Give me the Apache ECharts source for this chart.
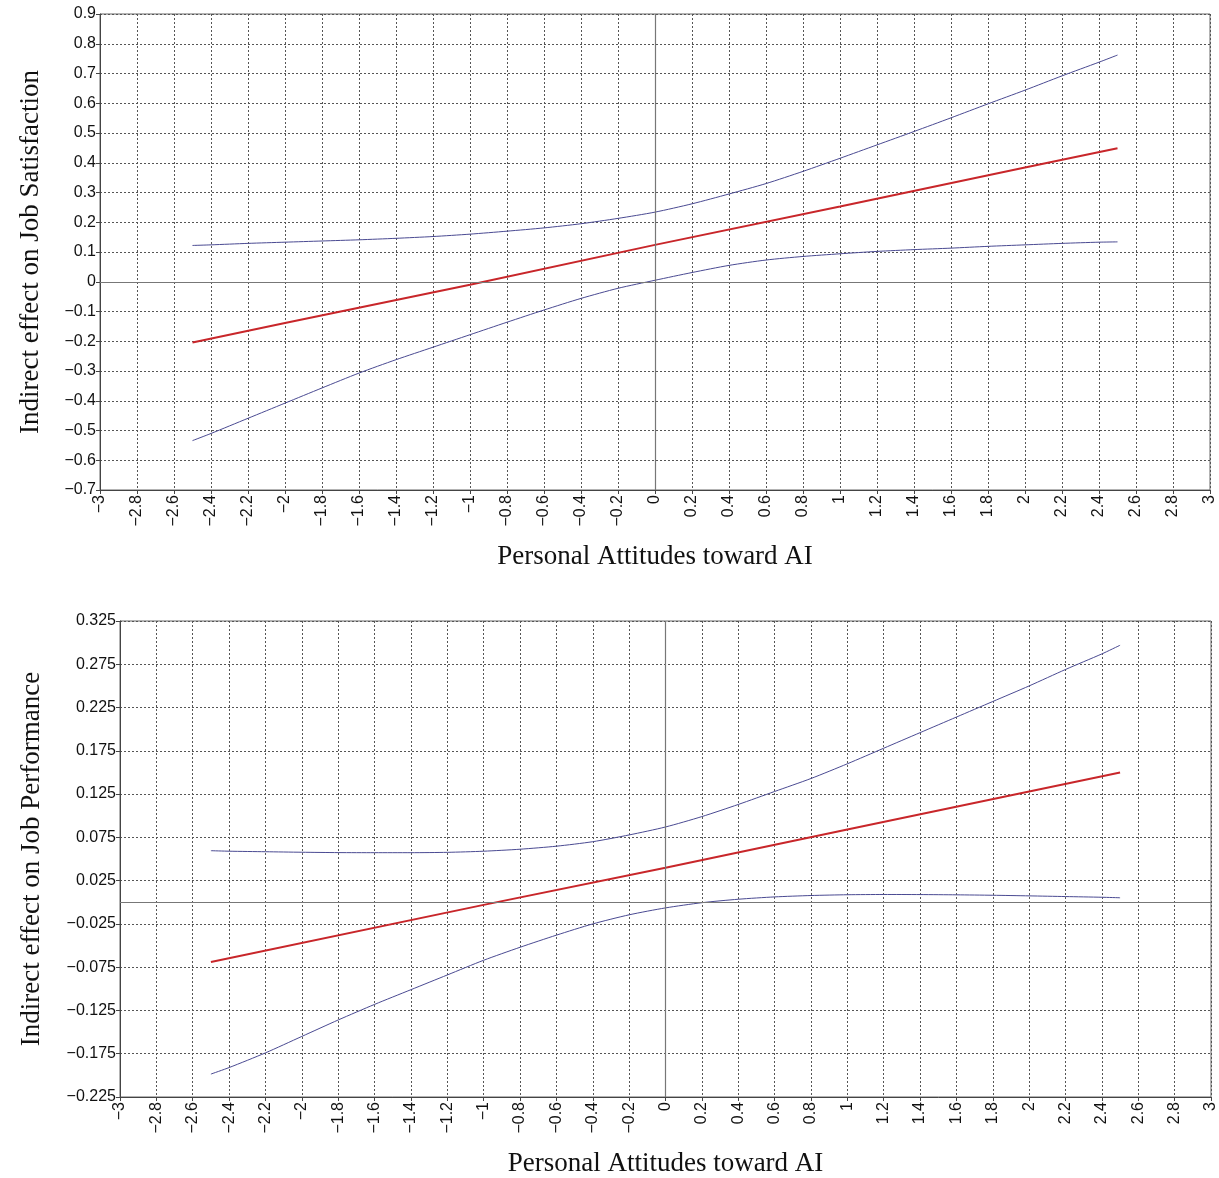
<!DOCTYPE html>
<html>
<head>
<meta charset="utf-8">
<script src="https://cdn.jsdelivr.net/npm/echarts@6/dist/echarts.min.js"></script>
<style>
html,body{margin:0;padding:0;background:#fff;}
#chart{width:1219px;height:1178px;}
</style>
</head>
<body>
<div id="chart"></div>
<script>
// Shared x positions for the confidence-band curves
const xs = [-2.5,-2.4,-2.2,-2.0,-1.8,-1.6,-1.4,-1.2,-1.0,-0.8,-0.6,-0.4,-0.2,0,0.2,0.4,0.6,0.8,1.0,1.2,1.4,1.6,1.8,2.0,2.2,2.4,2.5];

// Top panel: Job Satisfaction
const satUpper = [0.122,0.124,0.129,0.133,0.137,0.141,0.146,0.152,0.160,0.170,0.181,0.195,0.213,0.234,0.262,0.295,0.330,0.371,0.415,0.460,0.505,0.551,0.598,0.644,0.692,0.738,0.762];
const satLower = [-0.534,-0.510,-0.459,-0.408,-0.357,-0.307,-0.262,-0.220,-0.178,-0.136,-0.095,-0.056,-0.022,0.005,0.031,0.055,0.073,0.085,0.094,0.102,0.108,0.113,0.119,0.124,0.129,0.133,0.134];
const satEffX = [-2.5,-2.0,-1.0,0,1.0,2.0,2.5];
const satEff  = [-0.204,-0.139,-0.010,0.124,0.253,0.384,0.449];

// Bottom panel: Job Performance
const perfUpper = [0.0596,0.0590,0.0584,0.0578,0.0574,0.0573,0.0573,0.0577,0.0590,0.0613,0.0648,0.0700,0.0778,0.0870,0.0990,0.113,0.128,0.143,0.160,0.178,0.196,0.214,0.232,0.250,0.269,0.287,0.297];
const perfLower = [-0.1985,-0.191,-0.174,-0.155,-0.136,-0.118,-0.101,-0.084,-0.067,-0.052,-0.038,-0.025,-0.0145,-0.0065,-0.0005,0.0035,0.0062,0.0078,0.0087,0.0090,0.0089,0.0086,0.0081,0.0074,0.0066,0.0058,0.0052];
const perfEffX = [-2.5,-1.0,0,1.0,2.5];
const perfEff  = [-0.069,-0.003,0.040,0.084,0.150];

// Axis settings / titles
const xTitle = 'Personal Attitudes toward AI';
const yTitleTop = 'Indirect effect on Job Satisfaction';
const yTitleBottom = 'Indirect effect on Job Performance';
const xRange = [-3, 3, 0.2];
const yRangeTop = [-0.7, 0.9, 0.1];
const yRangeBottom = [-0.225, 0.325, 0.05];

const pairs = (x, y) => x.map((v, i) => [v, y[i]]);
const minus = s => s.replace('-', '\u2212');
const fmtX = v => minus(String(Math.round(v * 10) / 10));
const fmtYTop = v => minus(String(Math.round(v * 10) / 10));
const fmtYBottom = v => { const r = Math.round(v * 1000) / 1000; return minus(String(r)); };

const FONT = "'Liberation Sans', Arial, sans-serif";
const SERIF = "'Liberation Serif', 'Times New Roman', serif";

function xAxis(gridIndex, gap) {
  return {
    type: 'value', gridIndex, min: xRange[0], max: xRange[1], interval: xRange[2],
    name: xTitle, nameLocation: 'middle', nameGap: gap,
    nameTextStyle: { fontFamily: SERIF, fontSize: 27, color: '#111' },
    axisLine: { show: true, onZero: false, lineStyle: { color: '#444', width: 1 } },
    axisTick: { show: true, length: 4, lineStyle: { color: '#444' } },
    axisLabel: { rotate: 90, margin: 5, fontFamily: FONT, fontSize: 16, color: '#111', formatter: fmtX, showMinLabel: true, showMaxLabel: true },
    splitLine: { show: true, lineStyle: { type: [2, 2], color: '#555', width: 1 } }
  };
}
function yAxis(gridIndex, range, fmt, title, gap) {
  return {
    type: 'value', gridIndex, min: range[0], max: range[1], interval: range[2],
    name: title, nameLocation: 'middle', nameGap: gap, nameRotate: 90,
    nameTextStyle: { fontFamily: SERIF, fontSize: 27, color: '#111' },
    axisLine: { show: true, onZero: false, lineStyle: { color: '#444', width: 1 } },
    axisTick: { show: true, length: 4, lineStyle: { color: '#444' } },
    axisLabel: { margin: 4, fontFamily: FONT, fontSize: 16, color: '#111', formatter: fmt, showMinLabel: true, showMaxLabel: true },
    splitLine: { show: true, lineStyle: { type: [2, 2], color: '#555', width: 1 } }
  };
}
const zeroLines = {
  silent: true, symbol: 'none', label: { show: false },
  lineStyle: { type: 'solid', color: '#777', width: 1.2 },
  data: [{ xAxis: 0 }, { yAxis: 0 }]
};
function band(idx, y, withZero) {
  const s = {
    type: 'line', xAxisIndex: idx, yAxisIndex: idx, data: pairs(xs, y),
    showSymbol: false, smooth: 0.25, lineStyle: { color: '#4a4a92', width: 1 }, z: 3
  };
  if (withZero) s.markLine = zeroLines;
  return s;
}
function effect(idx, x, y) {
  return {
    type: 'line', xAxisIndex: idx, yAxisIndex: idx, data: pairs(x, y),
    showSymbol: false, lineStyle: { color: '#c8262a', width: 2 }, z: 4
  };
}

const chart = echarts.init(document.getElementById('chart'), null, { renderer: 'canvas' });
chart.setOption({
  animation: false,
  backgroundColor: '#fff',
  grid: [
    { left: 100, top: 14, width: 1110, height: 476, show: true, borderColor: '#666', borderWidth: 1, backgroundColor: 'transparent' },
    { left: 120, top: 621, width: 1092, height: 477, show: true, borderColor: '#666', borderWidth: 1, backgroundColor: 'transparent' }
  ],
  xAxis: [xAxis(0, 53), xAxis(1, 53)],
  yAxis: [
    yAxis(0, yRangeTop, fmtYTop, yTitleTop, 56),
    yAxis(1, yRangeBottom, fmtYBottom, yTitleBottom, 75)
  ],
  series: [
    band(0, satUpper, true), band(0, satLower, false), effect(0, satEffX, satEff),
    band(1, perfUpper, true), band(1, perfLower, false), effect(1, perfEffX, perfEff)
  ]
});
</script>
</body>
</html>
